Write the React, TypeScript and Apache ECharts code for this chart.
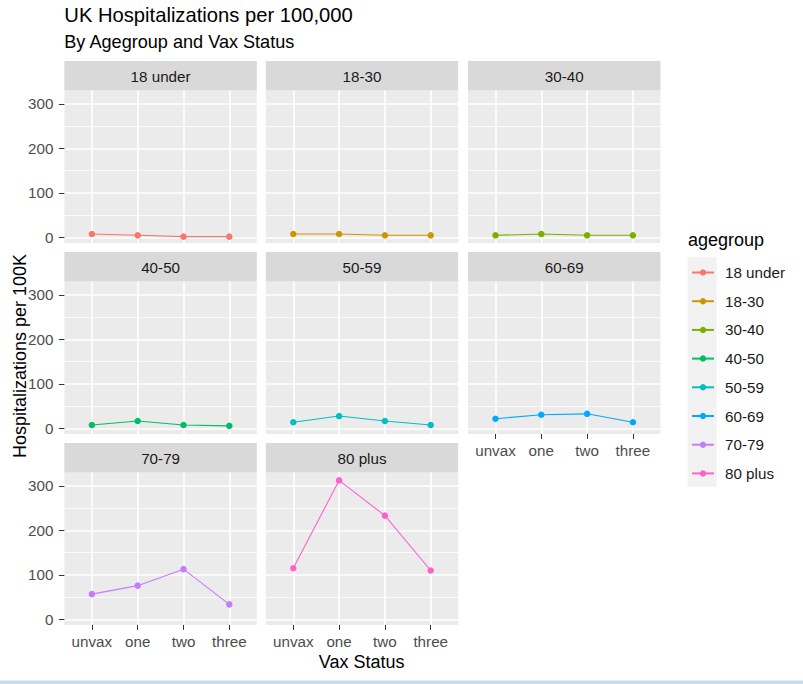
import React, { useEffect, useRef } from "react";
import * as echarts from "echarts";

const vaxStatus = ["unvax", "one", "two", "three"];
const ageGroups = ["18 under", "18-30", "30-40", "40-50", "50-59", "60-69", "70-79", "80 plus"];
const under18 = [8, 5, 2, 2];
const age18to30 = [8, 8, 5, 5];
const age30to40 = [5, 8, 5, 5];
const age40to50 = [8, 17, 8, 6];
const age50to59 = [14, 28, 17, 8];
const age60to69 = [22, 31, 33, 14];
const age70to79 = [57, 76, 113, 34];
const plus80 = [115, 312, 233, 110];
const seriesValues = [under18, age18to30, age30to40, age40to50, age50to59, age60to69, age70to79, plus80];
const colors = ["#F8766D", "#CD9600", "#7CAE00", "#00BE67", "#00BFC4", "#00A9FF", "#C77CFF", "#FF61CC"];
const yMajorTicks = [0, 100, 200, 300];
const yMinorTicks = [50, 150, 250];
const xTicks = [0, 1, 2, 3];

const FONT = "'Liberation Sans', Arial, sans-serif";
const SMALL = 15.2;

export default function App() {
  const ref = useRef<HTMLDivElement>(null);
  useEffect(() => {
    if (!ref.current) return;
    const chart = echarts.init(ref.current, null, { renderer: "svg" });

    const colLefts = [64.4, 265.8, 468];
    const panelW = 192.4;
    const stripTops = [61, 252, 443];
    const stripH = 29.6;
    const panelH = 152.3;

    const grids: any[] = [];
    const xAxes: any[] = [];
    const yAxes: any[] = [];
    const series: any[] = [];
    const graphics: any[] = [];

    ageGroups.forEach((name, i) => {
      const col = i % 3;
      const row = Math.floor(i / 3);
      const left = colLefts[col];
      const top = stripTops[row] + stripH;
      const showX = row === 2 || i === 5;
      const showY = col === 0;
      grids.push({
        left,
        top,
        width: panelW,
        height: panelH,
        show: true,
        backgroundColor: "#EBEBEB",
        borderWidth: 0,
        containLabel: false,
        outerBoundsMode: "none",
      });
      xAxes.push({
        type: "value",
        gridIndex: i,
        position: "bottom",
        min: -0.6,
        max: 3.6,
        axisLine: { show: false, onZero: false },
        axisTick: {
          show: showX,
          customValues: xTicks,
          length: 5,
          lineStyle: { color: "#333333", width: 1 },
        },
        axisLabel: {
          show: showX,
          customValues: xTicks,
          formatter: (v: number) => vaxStatus[Math.round(v)] ?? "",
          color: "#4D4D4D",
          fontSize: SMALL,
          fontFamily: FONT,
          margin: 9,
        },
        splitLine: { show: true, lineStyle: { color: "#FFFFFF", width: 1.6 } },
      });
      yAxes.push({
        type: "value",
        gridIndex: i,
        position: "left",
        min: -12,
        max: 329.5,
        axisLine: { show: false, onZero: false },
        axisTick: {
          show: showY,
          customValues: yMajorTicks,
          length: 5.5,
          lineStyle: { color: "#333333", width: 1 },
        },
        axisLabel: {
          show: showY,
          customValues: yMajorTicks,
          color: "#4D4D4D",
          fontSize: SMALL,
          fontFamily: FONT,
          margin: 11,
        },
        splitLine: { show: true, lineStyle: { color: "#FFFFFF", width: 1.6 } },
      });
      yAxes.push({
        type: "value",
        gridIndex: i,
        position: "left",
        min: -12,
        max: 329.5,
        axisLine: { show: false, onZero: false },
        axisTick: { show: false, customValues: yMinorTicks },
        axisLabel: { show: false, customValues: yMinorTicks },
        splitLine: { show: true, lineStyle: { color: "#FFFFFF", width: 0.8 } },
      });
      series.push({
        type: "line",
        name,
        xAxisIndex: i,
        yAxisIndex: 2 * i,
        data: seriesValues[i].map((v, j) => [j, v]),
        symbol: "circle",
        symbolSize: 6.5,
        color: colors[i],
        lineStyle: { color: colors[i], width: 1.1 },
        itemStyle: { color: colors[i] },
        z: 5,
      });
      graphics.push({
        type: "rect",
        shape: { x: left, y: stripTops[row], width: panelW, height: stripH },
        style: { fill: "#D9D9D9" },
      });
      graphics.push({
        type: "text",
        x: left + panelW / 2,
        y: stripTops[row] + stripH / 2 + 0.5,
        style: {
          text: name,
          fontSize: SMALL,
          fontFamily: FONT,
          fill: "#1A1A1A",
          align: "center",
          verticalAlign: "middle",
        },
      });
    });

    graphics.push(
      {
        type: "text",
        x: 64.3,
        y: 15,
        style: { text: "UK Hospitalizations per 100,000", fontSize: 20.2, fontFamily: FONT, fill: "#000000", align: "left", verticalAlign: "middle" },
      },
      {
        type: "text",
        x: 64.3,
        y: 42,
        style: { text: "By Agegroup and Vax Status", fontSize: 18.1, fontFamily: FONT, fill: "#000000", align: "left", verticalAlign: "middle" },
      },
      {
        type: "text",
        x: 19.5,
        y: 356,
        rotation: Math.PI / 2,
        style: { text: "Hospitalizations per 100K", fontSize: 18, fontFamily: FONT, fill: "#000000", align: "center", verticalAlign: "middle" },
      },
      {
        type: "text",
        x: 361.7,
        y: 662,
        style: { text: "Vax Status", fontSize: 18, fontFamily: FONT, fill: "#000000", align: "center", verticalAlign: "middle" },
      },
      {
        type: "text",
        x: 688,
        y: 240.3,
        style: { text: "agegroup", fontSize: 18, fontFamily: FONT, fill: "#000000", align: "left", verticalAlign: "middle" },
      },
      {
        type: "rect",
        shape: { x: 687.7, y: 256.7, width: 29, height: 230 },
        style: { fill: "#F2F2F2" },
      },
      {
        type: "rect",
        shape: { x: 0, y: 680.5, width: 803, height: 3.5 },
        style: { fill: "#C5DBEF" },
      }
    );

    chart.setOption({
      animation: false,
      backgroundColor: "#FFFFFF",
      grid: grids,
      xAxis: xAxes,
      yAxis: yAxes,
      series,
      legend: {
        data: ageGroups,
        orient: "vertical",
        left: 691,
        top: 265,
        padding: 0,
        itemWidth: 22,
        itemHeight: 8,
        itemGap: 13.7,
        textStyle: { fontSize: SMALL, fontFamily: FONT, color: "#1A1A1A", padding: [0, 0, 0, 6] },
      },
      graphic: graphics,
    });

    return () => chart.dispose();
  }, []);

  return (
    <div
      ref={ref}
      style={{ position: "fixed", left: 0, top: 0, width: 803, height: 684 }}
    />
  );
}
